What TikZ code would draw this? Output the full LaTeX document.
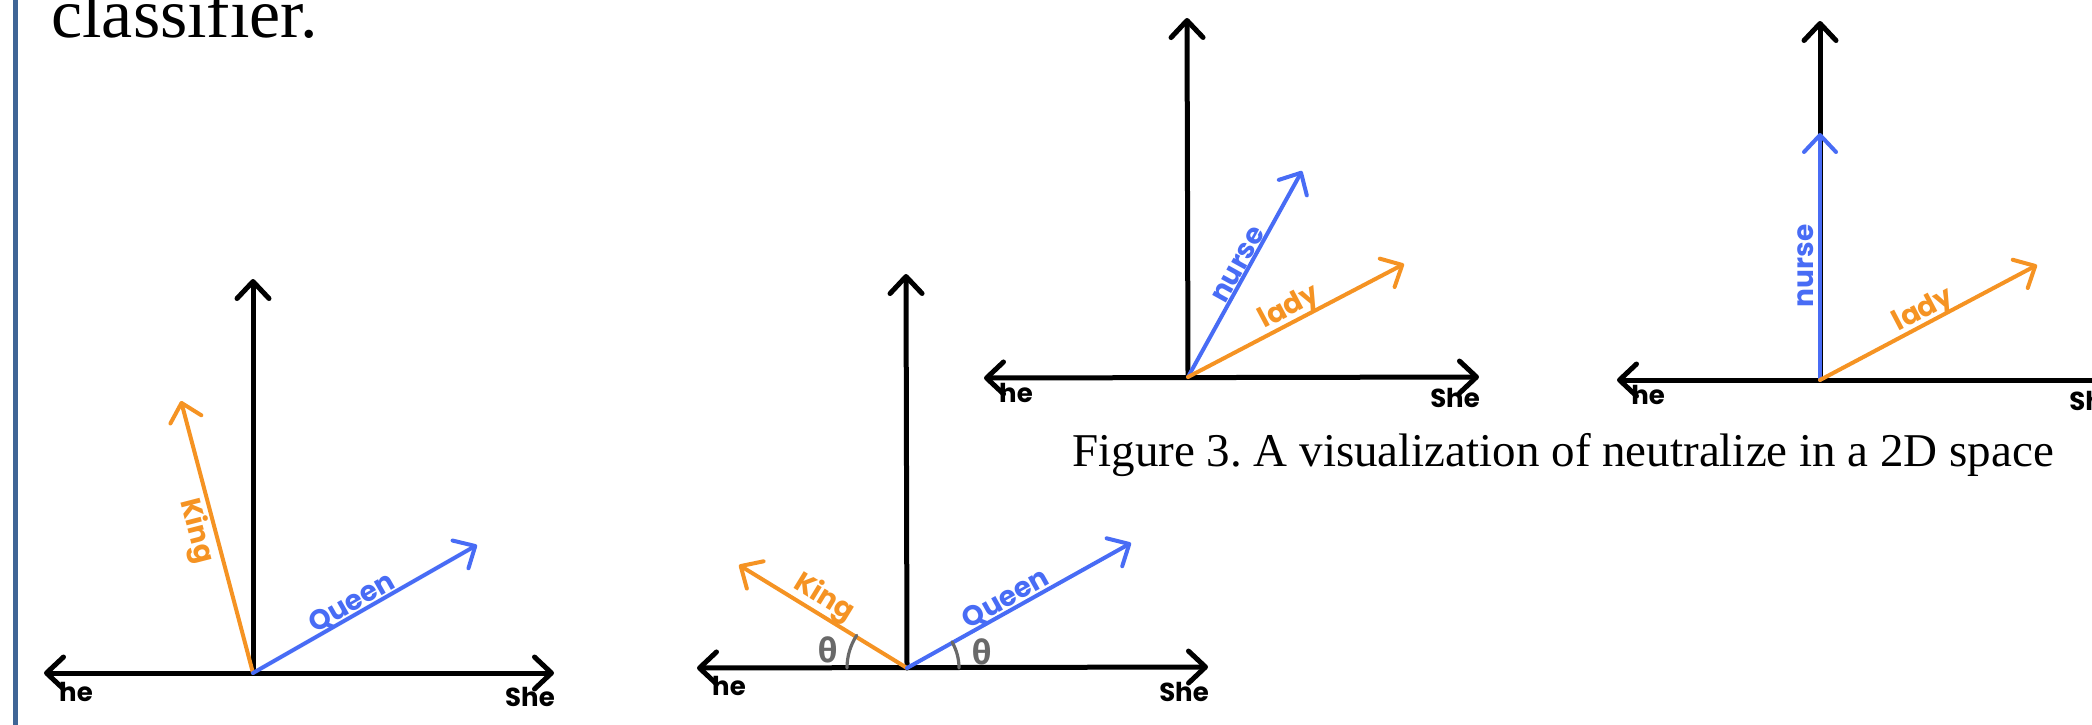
\documentclass[tikz,border=0pt]{standalone}
\usepackage{fontspec}
\setmainfont{Liberation Serif}
\newfontfamily\hand{Poppins}
\newfontfamily\grk{Fira Sans}
\usetikzlibrary{arrows.meta}
\definecolor{org}{RGB}{245,147,35}
\definecolor{blu}{RGB}{72,108,245}
\definecolor{barc}{RGB}{63,101,150}
\definecolor{gry}{RGB}{105,105,105}
\frenchspacing
\tikzset{
  chev/.tip={Straight Barb[length=8.5pt,width=16pt,line cap=round,line join=round]},
  axisv/.style={draw=black,line width=2.5pt,-chev,line cap=round},
  axish/.style={draw=black,line width=2.5pt,chev-chev,line cap=round},
  vec/.style={line width=2pt,-chev,line cap=round},
  lbl/.style={font=\hand\bfseries\fontsize{14pt}{14pt}\selectfont,inner sep=0pt},
  pm/.style={font=\hand\bfseries\fontsize{13pt}{13pt}\selectfont,inner sep=0pt,text=black},
  th/.style={font=\grk\bfseries\fontsize{17pt}{17pt}\selectfont,inner sep=0pt,text=gry},
  anga/.style={draw=gry,line width=1.6pt,line cap=round},
}
\begin{document}
\begin{tikzpicture}[x=0.5pt,y=-0.5pt]
\useasboundingbox (0,0) rectangle (2092,724);
\clip (0,0) rectangle (2092,724);
\fill[barc] (12.5,-5) rectangle (18,730);
\node[anchor=base west,inner sep=0pt,font=\fontsize{35pt}{35pt}\selectfont] (cls) at (51,37) {classifier.};
% ---------- diagram 1
\coordinate (o1) at (253,673);
\coordinate (l1) at (44,673);
\coordinate (r1) at (554,673);
\coordinate (t1) at (253,279);
\coordinate (k1) at (181,401);
\coordinate (q1) at (477,545);
\draw[axish] (l1) -- (r1);
\draw[axisv] (o1) -- (t1);
\draw[vec,org] (o1) -- (k1);
\draw[vec,blu] (o1) -- (q1);
\node[lbl,text=org,rotate=-75.5] (kl1) at (196,531) {King};
\node[lbl,text=blu,rotate=29.6] (ql1) at (352,603) {Queen};
\node[pm] (he1) at (76,692) {he};
\node[pm] (she1) at (530,697) {She};
% ---------- diagram 2
\coordinate (o2) at (907,668);
\coordinate (l2) at (697,668);
\coordinate (r2) at (1208,667);
\coordinate (t2) at (906,274);
\coordinate (k2) at (739,565);
\coordinate (q2) at (1131,543);
\draw[axish] (l2) -- (r2);
\draw[axisv] (o2) -- (t2);
\draw[vec,org] (o2) -- (k2);
\draw[vec,blu] (o2) -- (q2);
\draw[anga] (o2) ++(-60,0) arc[start angle=180,end angle=147,radius=30pt];
\draw[anga] (o2) ++(52,0) arc[start angle=0,end angle=30,radius=26pt];
\node[th] (th2a) at (828,650) {θ};
\node[th] (th2b) at (982,652) {θ};
\node[lbl,text=org,rotate=-31.5] (kl2) at (824,598) {King};
\node[lbl,text=blu,rotate=29.2] (ql2) at (1006,599) {Queen};
\node[pm] (he2) at (729,686) {he};
\node[pm] (she2) at (1184,692) {She};
% ---------- diagram 3
\coordinate (o3) at (1188,377);
\coordinate (l3) at (984,378);
\coordinate (r3) at (1479,377);
\coordinate (t3) at (1187,18);
\coordinate (n3) at (1302,171);
\coordinate (y3) at (1404,264);
\draw[axish] (l3) -- (r3);
\draw[axisv] (o3) -- (t3);
\draw[vec,blu] (o3) -- (n3);
\draw[vec,org] (o3) -- (y3);
\node[lbl,text=blu,rotate=61] (nl3) at (1239,265) {nurse};
\node[lbl,text=org,rotate=28] (yl3) at (1290,308) {lady};
\node[pm] (he3) at (1016,393) {he};
\node[pm] (she3) at (1455,398) {She};
% ---------- diagram 4
\coordinate (o4) at (1820,380);
\coordinate (l4) at (1617,380);
\coordinate (r4) at (2125,380);
\coordinate (t4) at (1820,21);
\coordinate (n4) at (1820,133);
\coordinate (y4) at (2037,265);
\draw[axish] (l4) -- (r4);
\draw[axisv] (o4) -- (t4);
\draw[vec,blu] (o4) -- (n4);
\draw[vec,org] (o4) -- (y4);
\node[lbl,text=blu,rotate=90] (nl4) at (1806,266) {nurse};
\node[lbl,text=org,rotate=27.7] (yl4) at (1924,311) {lady};
\node[pm] (he4) at (1648,395) {he};
\node[pm,anchor=west] (she4) at (2069,401) {She};
% ---------- caption
\node[anchor=base west,inner sep=0pt,font=\fontsize{23.5pt}{23.5pt}\selectfont] (cap) at (1072,466) {Figure 3. A visualization of neutralize in a 2D space};
\end{tikzpicture}
\end{document}
